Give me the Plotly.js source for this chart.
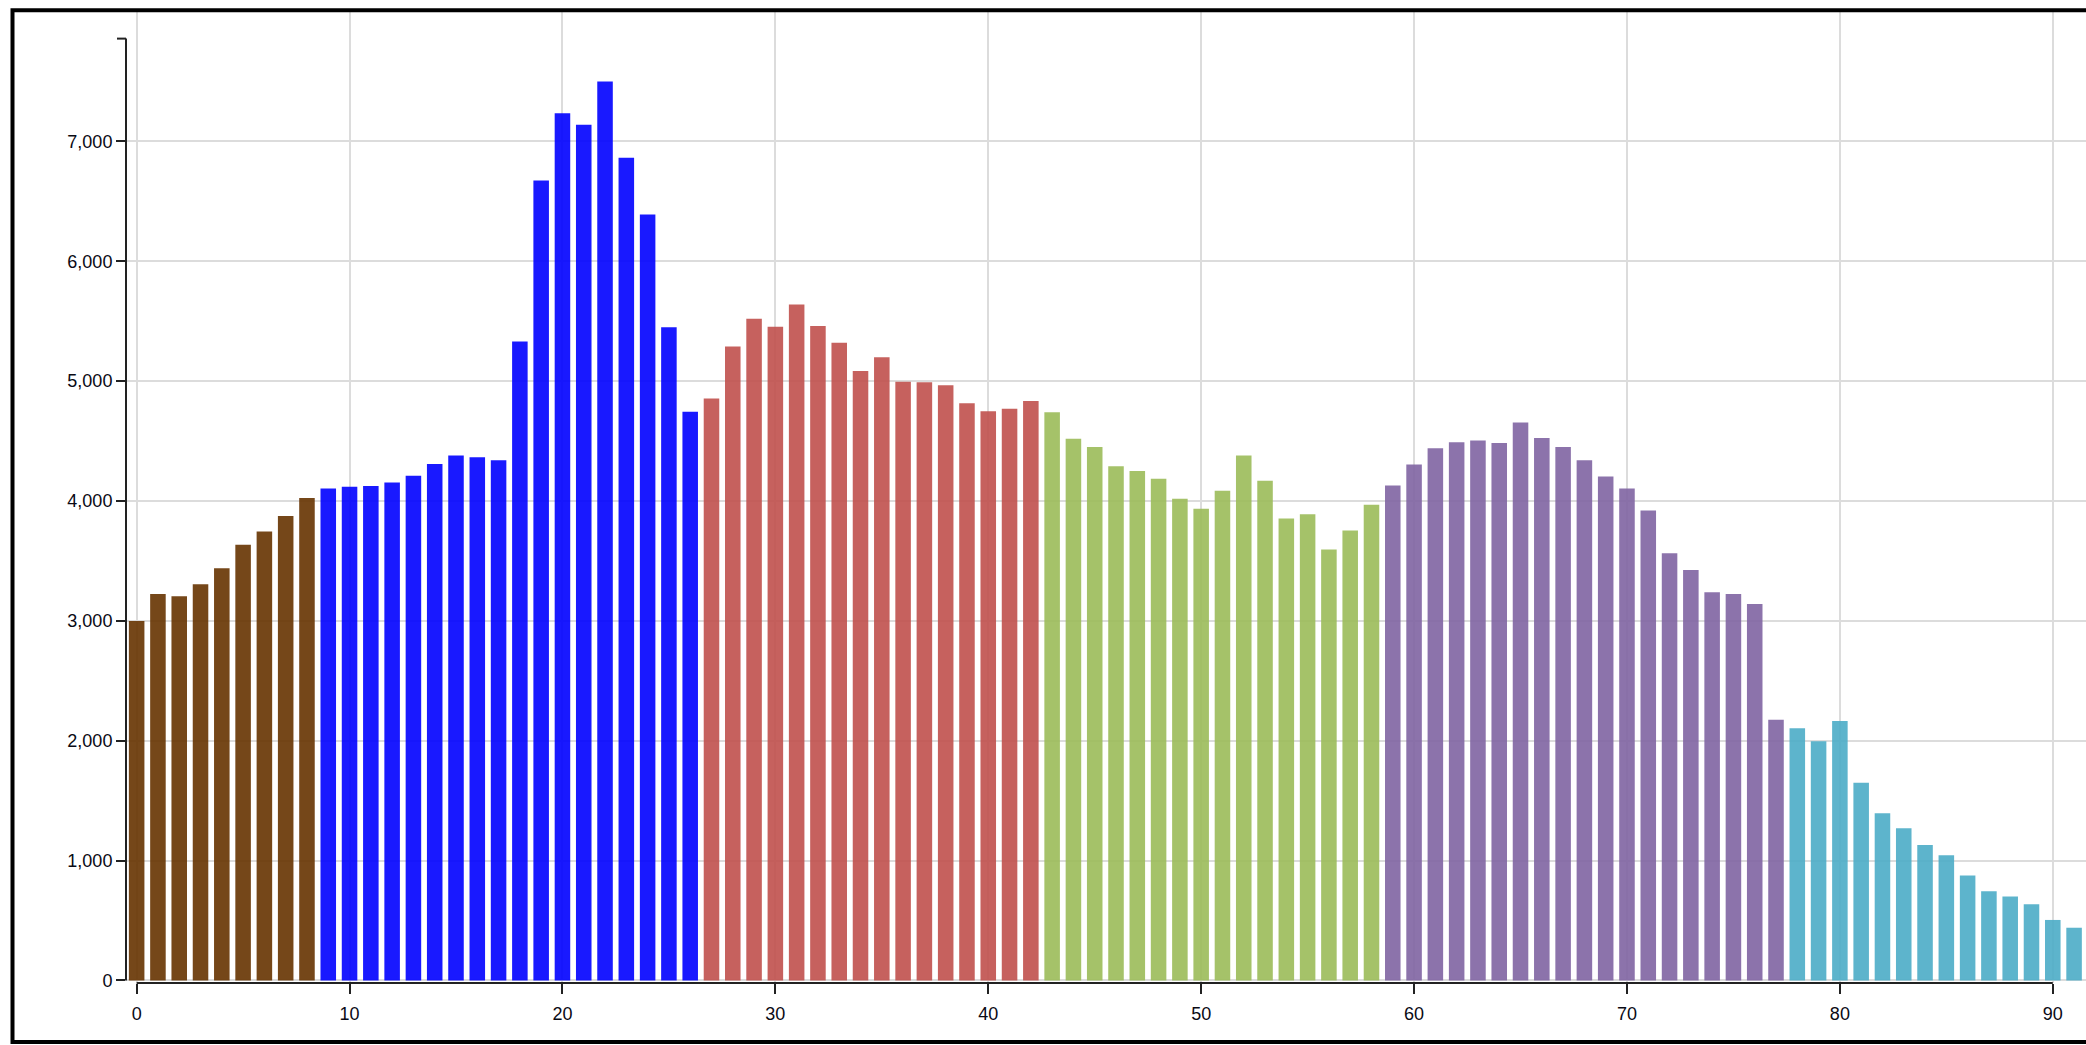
<!DOCTYPE html>
<html>
<head>
<meta charset="utf-8">
<script src="https://cdn.plot.ly/plotly-3.0.1.min.js"></script>
<style>
  html, body { margin: 0; padding: 0; background: #fff; }
  #chart { width: 2086px; height: 1045px; }
</style>
</head>
<body>
<div id="chart"></div>
<script>
// ---- data ----
const ages = [];
for (let i = 0; i <= 91; i++) ages.push(i);

const counts = [
  3000, 3225, 3205, 3305, 3440, 3635, 3745, 3875, 4025,           // 0-8
  4105, 4120, 4125, 4155, 4210, 4310, 4380, 4365, 4340,           // 9-17
  5330, 6675, 7235, 7140, 7500, 6865, 6390, 5450, 4745,           // 18-26
  4855, 5290, 5520, 5455, 5640, 5460, 5320, 5085, 5200,           // 27-35
  4995, 4990, 4965, 4815, 4750, 4770, 4835,                       // 36-42
  4740, 4520, 4450, 4290, 4250, 4185, 4020, 3935, 4085,           // 43-51
  4380, 4170, 3855, 3890, 3595, 3755, 3970,                       // 52-58
  4130, 4305, 4440, 4490, 4505, 4485, 4655, 4525, 4450,           // 59-67
  4340, 4205, 4105, 3920, 3565, 3425, 3240, 3225, 3140, 2175,     // 68-77
  2105, 1995, 2165, 1650, 1395, 1270, 1130, 1045, 875,            // 78-86
  745, 700, 635, 505, 440                                         // 87-91
];

const groupStarts = [0, 9, 27, 43, 59, 78];
const groupColors = ['#663300', '#0000ff', '#c0504d', '#9bbb59', '#8064a2', '#4bacc6'];

const xTickVals = [0, 10, 20, 30, 40, 50, 60, 70, 80, 90];
const yTickVals = [0, 1000, 2000, 3000, 4000, 5000, 6000, 7000];
const yAxisTop = 7858;

// ---- build per-bar colours from groups ----
const barColors = ages.map(a => {
  let g = 0;
  for (let k = 0; k < groupStarts.length; k++) if (a >= groupStarts[k]) g = k;
  return groupColors[g];
});

const trace = {
  type: 'bar',
  x: ages,
  y: counts,
  marker: { color: barColors, opacity: 0.9, line: { width: 0 } },
  hoverinfo: 'x+y'
};

const font = { family: '"Liberation Sans", Arial, sans-serif', size: 18, color: '#0a0a14' };

const layout = {
  width: 2086,
  height: 1045,
  margin: { l: 126, r: 0, t: 12, b: 62, pad: 0 },
  paper_bgcolor: '#fff',
  plot_bgcolor: '#fff',
  showlegend: false,
  bargap: 0.27,
  font: font,
  xaxis: {
    range: [-0.5, 91.56],
    tickvals: xTickVals,
    ticks: 'outside',
    ticklen: 10,
    tickwidth: 2,
    tickcolor: '#222',
    ticklabelstandoff: 4,
    showline: false,
    zeroline: false,
    showgrid: true,
    gridcolor: '#dcdcdc',
    gridwidth: 2,
    tickfont: font,
    fixedrange: true
  },
  yaxis: {
    range: [-21, 8080],
    tickvals: yTickVals,
    tickformat: ',d',
    ticks: 'outside',
    ticklen: 9,
    tickwidth: 2,
    tickcolor: '#222',
    showline: false,
    zeroline: false,
    showgrid: true,
    gridcolor: '#dcdcdc',
    gridwidth: 2,
    tickfont: font,
    fixedrange: true
  },
  shapes: [
    // x axis domain line with end ticks
    { type: 'line', xref: 'x', yref: 'paper', x0: 0, x1: 90, y0: 0, y1: 0,
      line: { color: '#222', width: 2 } },
    // y axis domain line
    { type: 'line', xref: 'paper', yref: 'y', x0: 0, x1: 0, y0: 0, y1: yAxisTop,
      line: { color: '#222', width: 2 } },
    // y axis top outer tick
    { type: 'line', xref: 'paper', yref: 'y', x0: -9 / 1960, x1: 0, y0: yAxisTop, y1: yAxisTop,
      line: { color: '#222', width: 2 } },
    // outer frame
    { type: 'rect', xref: 'paper', yref: 'paper',
      x0: (12.5 - 126) / 1960, x1: 1.02,
      y0: (983 - 1042) / 971, y1: (983 - 10.3) / 971,
      line: { color: '#000', width: 4 }, fillcolor: 'rgba(0,0,0,0)' }
  ]
};

Plotly.newPlot('chart', [trace], layout, { displayModeBar: false, staticPlot: true });
</script>
</body>
</html>
